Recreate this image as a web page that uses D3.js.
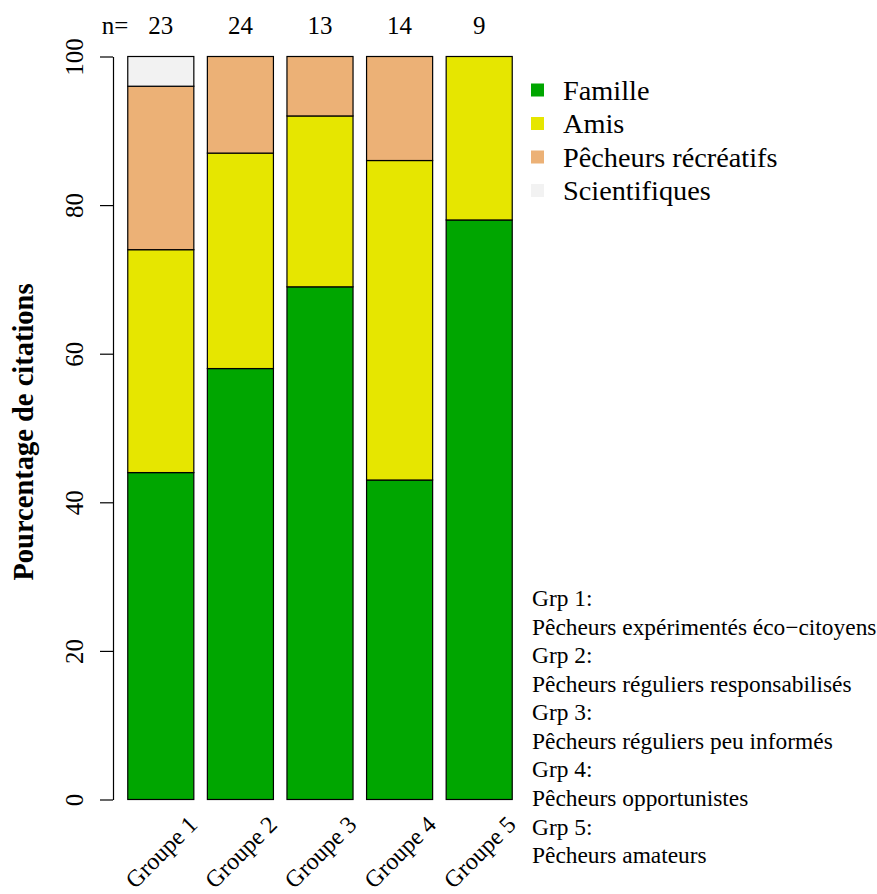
<!DOCTYPE html>
<html><head><meta charset="utf-8">
<script src="https://cdn.jsdelivr.net/npm/d3@7"></script>
<style>body{margin:0;background:#fff}svg{display:block}text{font-family:"Liberation Serif","Times New Roman",serif}</style>
</head><body><svg id="c" width="877" height="894"></svg>
<script>
const groups = ["Groupe 1","Groupe 2","Groupe 3","Groupe 4","Groupe 5"];
const nCounts = [23, 24, 13, 14, 9];
const categories = ["Famille","Amis","Pêcheurs récréatifs","Scientifiques"];
const colors = ["#00A600","#E6E600","#ECB176","#F2F2F2"];
const famille = [44, 58, 69, 43, 78];
const amis = [30, 29, 23, 43, 22];
const pecheurs = [22, 13, 8, 14, 0];
const scientifiques = [4, 0, 0, 0, 0];
const yTicks = [0, 20, 40, 60, 80, 100];
const groupNotes = ["Grp 1:","Pêcheurs expérimentés éco\u2212citoyens","Grp 2:","Pêcheurs réguliers responsabilisés","Grp 3:","Pêcheurs réguliers peu informés","Grp 4:","Pêcheurs opportunistes","Grp 5:","Pêcheurs amateurs"];

const svg = d3.select("#c");
const y = d3.scaleLinear().domain([0,100]).range([799.5,56.5]);
const x = d3.scaleBand().domain(groups).range([121,519]).paddingInner(0.17).paddingOuter(0.085);

const table = groups.map((g,i)=>({group:g, "Famille":famille[i], "Amis":amis[i], "Pêcheurs récréatifs":pecheurs[i], "Scientifiques":scientifiques[i]}));
const stack = d3.stack().keys(categories)(table);

stack.forEach((layer,k)=>{
  svg.append("g").selectAll("rect").data(layer.filter(d=>d[1]-d[0]>0)).join("rect")
    .attr("x", d=>x(d.data.group)).attr("width", x.bandwidth())
    .attr("y", d=>y(d[1])).attr("height", d=>y(d[0])-y(d[1]))
    .attr("fill", colors[k]).attr("stroke","#000").attr("stroke-width",1.2);
});

// y axis
const ax = svg.append("g").attr("transform","translate(113,0)")
  .call(d3.axisLeft(y).tickValues(yTicks).tickSize(13).tickSizeOuter(0).tickPadding(0));
ax.select(".domain").attr("stroke","#000").attr("stroke-width",1.2);
ax.selectAll(".tick line").attr("stroke","#000").attr("stroke-width",1.2);
ax.selectAll(".tick text").remove();
ax.selectAll(".tick").append("text")
  .attr("transform","translate(-30,0) rotate(-90)")
  .attr("text-anchor","middle")
  .attr("fill","#000").style("font-size","25px").style("font-family","Liberation Serif")
  .text(d=>d);

svg.append("text").attr("transform","translate(33,432) rotate(-90)")
  .attr("text-anchor","middle").style("font-size","28.5px").style("font-weight","bold")
  .text("Pourcentage de citations");

// n labels
svg.append("text").attr("x",115).attr("y",34).attr("text-anchor","middle").style("font-size","25px").text("n=");
svg.append("g").selectAll("text").data(groups).join("text")
  .attr("x", d=>x(d)+x.bandwidth()/2).attr("y",34).attr("text-anchor","middle")
  .style("font-size","25px").text((d,i)=>nCounts[i]);

// x labels rotated
svg.append("g").selectAll("text").data(groups).join("text")
  .attr("transform", d=>`translate(${x(d)+x.bandwidth()/2+38},${826}) rotate(-45)`)
  .attr("text-anchor","end").style("font-size","24px").text(d=>d);

// legend
const lg = svg.append("g");
categories.forEach((c,i)=>{
  const yy = 90 + i*33.5;
  lg.append("rect").attr("x",531).attr("y",yy-6.5).attr("width",13).attr("height",13).attr("fill",colors[i]);
  lg.append("text").attr("x",563).attr("y",yy).attr("dy","0.35em").style("font-size","28.3px").text(c);
});

// notes
svg.append("g").selectAll("text").data(groupNotes).join("text")
  .attr("x",532).attr("y",(d,i)=>598+i*28.55).attr("dy","0.35em").style("font-size","23.4px").text(d=>d);
</script></body></html>
